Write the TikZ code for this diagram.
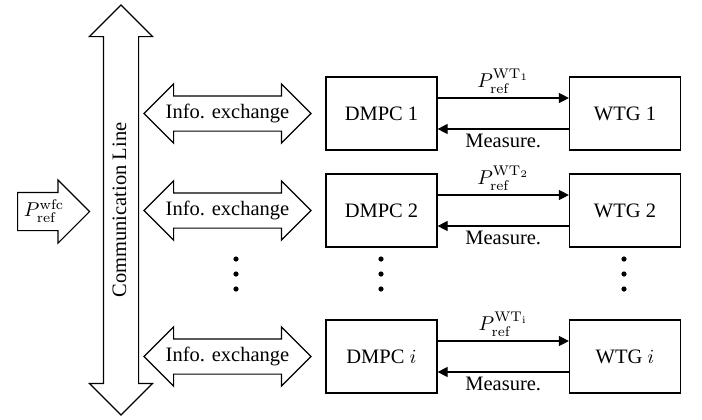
\documentclass[tikz,border=0pt]{standalone}
\usepackage[no-math]{fontspec}
\setmainfont{Liberation Serif}
\usetikzlibrary{calc}
\usetikzlibrary{shapes}
\usetikzlibrary{arrows.meta}

\tikzset{
  box/.style={draw, semithick, minimum width=55.5pt, minimum height=36.5pt, inner sep=0pt},
  infoarrow/.style={draw, semithick, double arrow, double arrow head extend=6pt,
    minimum height=83.5pt, text height=7pt, text depth=2pt, inner ysep=4pt, inner xsep=1pt},
  sig/.style={semithick, -{Triangle[length=5pt,width=5pt]}}
}

\begin{document}
\begin{tikzpicture}[x=0.5pt,y=-0.5pt,font=\fontsize{10.25pt}{12pt}\selectfont]
\useasboundingbox (0,0) rectangle (702,419);
\def\rowy{{113.5,210.5,356.5}}
\node[draw, semithick, double arrow, rotate=90, double arrow head extend=7pt,
  minimum height=205pt, text height=7pt, text depth=2pt, inner ysep=4pt] (comm) at (121,210) {Communication Line};
\node[draw, semithick, single arrow, single arrow head extend=6.25pt, anchor=tail,
  minimum height=36pt, text height=8pt, text depth=3pt, inner ysep=3.75pt, inner xsep=2pt] (wfc) at (17,211.5) {$P_{\rm ref}^{\rm wfc}$};
\foreach \i/\n/\s in {0/1/1, 1/2/2, 2/$i$/i} {
  \pgfmathsetmacro{\y}{\rowy[\i]};
  \node[infoarrow] (info_\i) at (227.5,\y) {Info. exchange};
  \node[box] (dmpc_\i) at (381.5,\y) {DMPC \n};
  \node[box] (wtg_\i) at (625,\y) {WTG \n};
  \draw[sig] ([yshift=7.75pt]dmpc_\i.east) -- node[above, inner sep=2pt] {$P_{\rm ref}^{{\rm WT}_{\rm \s}}$} ([yshift=7.75pt]wtg_\i.west);
  \draw[sig] ([yshift=-7.75pt]wtg_\i.west) -- node[below, inner sep=2pt] {Measure.} ([yshift=-7.75pt]dmpc_\i.east);
}
\foreach \x in {236,381,624} {
  \foreach \y in {259,274,289} {
    \fill (\x,\y) circle[radius=1.3pt];
  }
}
\end{tikzpicture}
\end{document}
